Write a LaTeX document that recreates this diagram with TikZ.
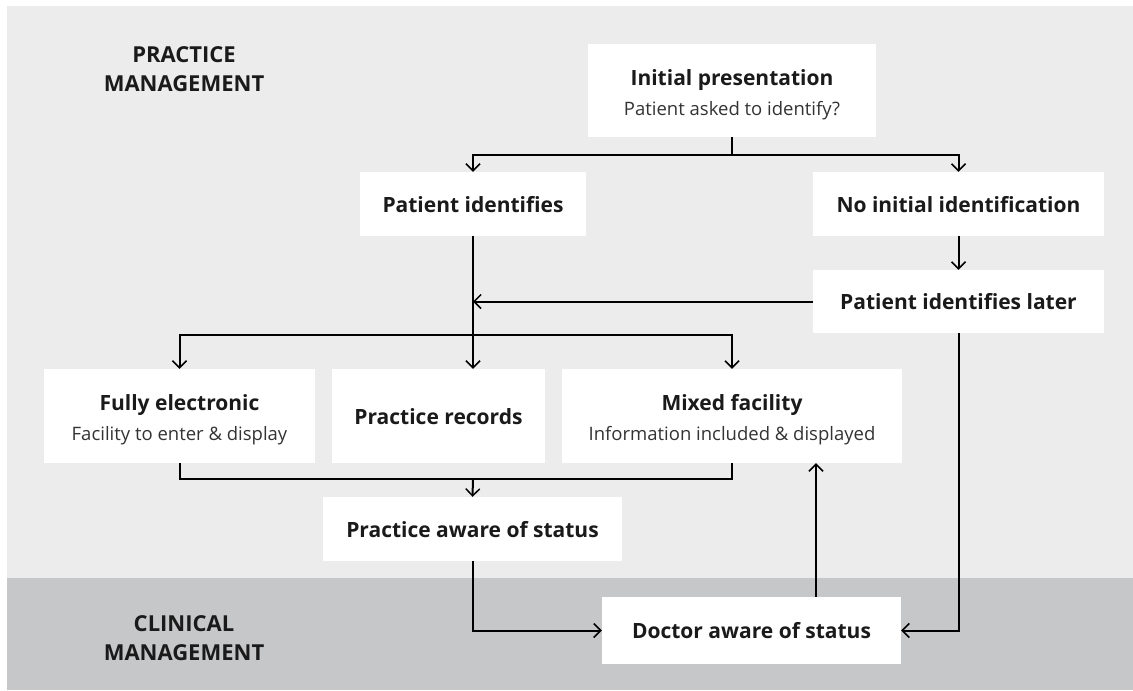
\documentclass[tikz,border=0pt]{standalone}
\usepackage{fontspec}
\setmainfont{Open Sans}
\usetikzlibrary{arrows.meta}
\definecolor{bglight}{HTML}{EBECEB}
\definecolor{bgdark}{HTML}{C6C7C9}
\definecolor{txt}{HTML}{1A1A1A}
\definecolor{subtxt}{HTML}{333333}
\tikzset{
  box/.style={fill=white, inner sep=0pt, align=center, text=txt,
    font=\fontsize{21}{30}\selectfont},
  oneline/.style={box, text height=16pt, text depth=0pt},
  twoline/.style={box, text height=49pt, text depth=0pt},
  conn/.style={line width=2pt, draw=black},
  arr/.style={conn, -{Straight Barb[length=7pt,width=14pt,line width=1.5pt]}},
  band/.style={align=center, inner sep=0pt, text=txt,
    font=\fontsize{22}{29}\selectfont\bfseries, text height=45pt, text depth=0pt},
}
\newcommand{\subln}[1]{{\fontsize{18.5}{30}\selectfont\color{subtxt}#1}}
\begin{document}
\begin{tikzpicture}[x=1pt,y=-1pt]
  \fill[white] (0,0) rectangle (1133,691);
  \fill[bglight] (7,6) rectangle (1133,578);
  \fill[bgdark] (7,578) rectangle (1133,690);

  \node[band] (pm) at (184,68.5) {PRACTICE\\MANAGEMENT};
  \node[band] (cm) at (184,637.5) {CLINICAL\\MANAGEMENT};

  \node[twoline, minimum width=288pt, minimum height=93pt] (init) at (732,90.5)
    {\textbf{Initial presentation}\\\subln{Patient asked to identify?}};
  \node[oneline, minimum width=226pt, minimum height=64pt] (pid) at (473,204)
    {\textbf{Patient identifies}};
  \node[oneline, minimum width=291pt, minimum height=64pt] (noid) at (958.5,204)
    {\textbf{No initial identification}};
  \node[oneline, minimum width=291pt, minimum height=63pt] (later) at (958.5,301.5)
    {\textbf{Patient identifies later}};
  \node[twoline, minimum width=271pt, minimum height=94pt] (full) at (179.5,416)
    {\textbf{Fully electronic}\\\subln{Facility to enter \& display}};
  \node[oneline, minimum width=213pt, minimum height=94pt] (recs) at (438.5,416)
    {\textbf{Practice records}};
  \node[twoline, minimum width=340pt, minimum height=94pt] (mixed) at (732,416)
    {\textbf{Mixed facility}\\\subln{Information included \& displayed}};
  \node[oneline, minimum width=299pt, minimum height=64pt] (aware) at (472.5,529)
    {\textbf{Practice aware of status}};
  \node[oneline, minimum width=299pt, minimum height=67pt] (doctor) at (751.5,630.5)
    {\textbf{Doctor aware of status}};

  \coordinate (fork) at (732,155);
  \coordinate (split) at (473,335);
  \coordinate (join) at (473,479);

  \draw[conn] (init.south) -- (fork);
  \draw[arr] (fork) -| (pid.north);
  \draw[arr] (fork) -| (noid.north);
  \draw[arr] (noid.south) -- (later.north);
  \draw[arr] (later.west) -- (pid.south |- later.west);
  \draw[arr] (pid.south) -- (pid.south |- recs.north);
  \draw[arr] (split) -| (full.north);
  \draw[arr] (split) -| (mixed.north);
  \draw[conn] (full.south) |- (join) -| (mixed.south);
  \draw[arr] (join) -- (aware.north);
  \draw[arr] (aware.south) |- (doctor.west);
  \draw[arr] ([xshift=64.5pt]doctor.north) -- ([xshift=64.5pt]doctor.north |- mixed.south);
  \draw[arr] (later.south) |- (doctor.east);
\end{tikzpicture}
\end{document}
